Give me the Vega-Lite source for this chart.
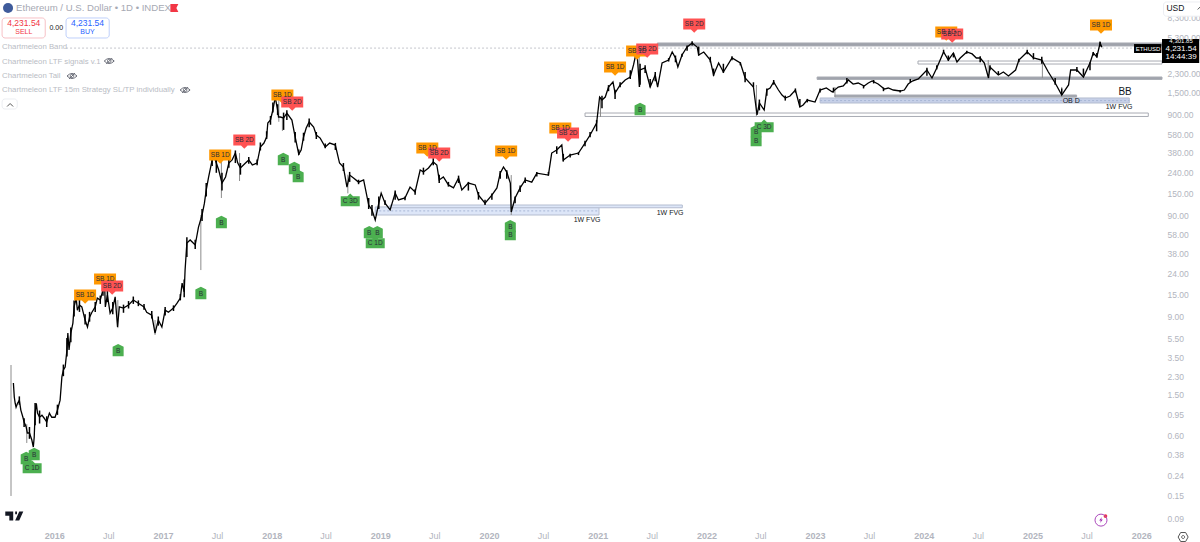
{
"$schema":"https://vega.github.io/schema/vega-lite/v6.json",
"autosize":"none","width":1162,"height":526,
"padding":{"left":0,"right":38,"top":0,"bottom":16},
"background":"white",
"config":{"view":{"stroke":null},"text":{"font":"Liberation Sans"}},
"resolve":{"scale":{"color":"independent","size":"independent","shape":"independent","fill":"independent","stroke":"independent"}},
"datasets":{
"prices":[
{"date":"2015-08-17","close":1.97},{"date":"2015-08-20","close":1.43},{"date":"2015-08-23","close":1.24},{"date":"2015-08-26","close":1.13},{"date":"2015-08-31","close":1.24},{"date":"2015-09-06","close":1.33},{"date":"2015-09-11","close":1.06},{"date":"2015-09-18","close":0.9},{"date":"2015-09-22","close":0.807},{"date":"2015-09-29","close":0.72},{"date":"2015-10-03","close":0.628},{"date":"2015-10-10","close":0.63},{"date":"2015-10-18","close":0.535},{"date":"2015-10-23","close":0.456},{"date":"2015-10-26","close":0.573},{"date":"2015-10-29","close":0.99},{"date":"2015-11-02","close":1.24},{"date":"2015-11-06","close":0.99},{"date":"2015-11-13","close":0.9},{"date":"2015-11-21","close":0.945},{"date":"2015-11-28","close":0.885},{"date":"2015-12-07","close":0.807},{"date":"2015-12-16","close":0.99},{"date":"2015-12-24","close":0.9},
{"date":"2016-01-04","close":0.9},{"date":"2016-01-12","close":1.06},{"date":"2016-01-21","close":1.33},{"date":"2016-01-27","close":2.26},{"date":"2016-02-01","close":2.65},{"date":"2016-02-07","close":2.84},{"date":"2016-02-13","close":4.18},{"date":"2016-02-16","close":6.16},{"date":"2016-02-20","close":4.18},{"date":"2016-02-26","close":6.16},{"date":"2016-03-04","close":7.75},{"date":"2016-03-08","close":11.2},{"date":"2016-03-15","close":13.7},{"date":"2016-03-19","close":10.4},{"date":"2016-03-26","close":11.7},{"date":"2016-04-03","close":11.2},{"date":"2016-04-14","close":8.3},{"date":"2016-04-22","close":7.07},{"date":"2016-04-29","close":8.86},{"date":"2016-05-07","close":9.93},{"date":"2016-05-18","close":11.2},{"date":"2016-05-25","close":13.7},{"date":"2016-06-04","close":13.1},{"date":"2016-06-13","close":16.5},{"date":"2016-06-18","close":20.7},{"date":"2016-06-21","close":11.2},{"date":"2016-06-28","close":14.7},{"date":"2016-07-07","close":9.71},{"date":"2016-07-16","close":10.9},{"date":"2016-07-24","close":14.1},{"date":"2016-08-01","close":7.07},{"date":"2016-08-07","close":11.2},{"date":"2016-08-21","close":10.9},{"date":"2016-09-07","close":11.7},{"date":"2016-09-23","close":13.1},{"date":"2016-10-10","close":12.2},{"date":"2016-10-29","close":11.2},{"date":"2016-11-07","close":9.93},{"date":"2016-11-24","close":9.28},{"date":"2016-12-05","close":6.16},{"date":"2016-12-16","close":8.3},{"date":"2016-12-28","close":7.07},
{"date":"2017-01-08","close":10.4},{"date":"2017-01-19","close":9.93},{"date":"2017-02-05","close":10.9},{"date":"2017-02-17","close":12.2},{"date":"2017-02-28","close":13.7},{"date":"2017-03-06","close":19.3},{"date":"2017-03-13","close":15.8},{"date":"2017-03-16","close":26},{"date":"2017-03-22","close":48.3},{"date":"2017-04-02","close":51.7},{"date":"2017-04-19","close":46.1},{"date":"2017-04-30","close":69.5},{"date":"2017-05-12","close":91.5},{"date":"2017-05-20","close":120},{"date":"2017-05-26","close":162},{"date":"2017-06-03","close":218},{"date":"2017-06-15","close":322},{"date":"2017-06-20","close":360},{"date":"2017-06-29","close":300},{"date":"2017-07-07","close":256},{"date":"2017-07-18","close":190},{"date":"2017-07-30","close":218},{"date":"2017-08-10","close":300},{"date":"2017-08-21","close":322},{"date":"2017-09-01","close":377},{"date":"2017-09-09","close":300},{"date":"2017-09-18","close":268},{"date":"2017-10-05","close":300},{"date":"2017-10-16","close":322},{"date":"2017-10-28","close":287},{"date":"2017-11-13","close":300},{"date":"2017-11-24","close":433},{"date":"2017-12-06","close":474},{"date":"2017-12-15","close":543},{"date":"2017-12-19","close":749},{"date":"2017-12-28","close":802},
{"date":"2018-01-05","close":1008},{"date":"2018-01-13","close":1356},{"date":"2018-01-21","close":1008},{"date":"2018-01-24","close":859},{"date":"2018-01-30","close":859},{"date":"2018-02-10","close":840},{"date":"2018-02-21","close":941},{"date":"2018-03-10","close":802},{"date":"2018-03-21","close":543},{"date":"2018-04-02","close":368},{"date":"2018-04-10","close":404},{"date":"2018-04-18","close":543},{"date":"2018-04-27","close":668},{"date":"2018-05-07","close":766},{"date":"2018-05-22","close":683},{"date":"2018-05-31","close":569},{"date":"2018-06-13","close":531},{"date":"2018-06-30","close":433},{"date":"2018-07-15","close":474},{"date":"2018-08-03","close":453},{"date":"2018-08-17","close":300},{"date":"2018-08-30","close":274},{"date":"2018-09-11","close":173},{"date":"2018-09-20","close":228},{"date":"2018-10-03","close":213},{"date":"2018-10-20","close":194},{"date":"2018-11-06","close":204},{"date":"2018-11-23","close":115},{"date":"2018-12-04","close":103},{"date":"2018-12-15","close":81.6},{"date":"2018-12-27","close":120},
{"date":"2019-01-04","close":151},{"date":"2019-01-17","close":120},{"date":"2019-02-03","close":103},{"date":"2019-02-20","close":151},{"date":"2019-03-03","close":129},{"date":"2019-03-25","close":135},{"date":"2019-04-11","close":173},{"date":"2019-04-28","close":155},{"date":"2019-05-15","close":256},{"date":"2019-05-26","close":245},{"date":"2019-06-12","close":268},{"date":"2019-06-28","close":307},{"date":"2019-07-10","close":287},{"date":"2019-07-18","close":204},{"date":"2019-08-01","close":218},{"date":"2019-08-18","close":182},{"date":"2019-09-04","close":170},{"date":"2019-09-21","close":213},{"date":"2019-10-02","close":162},{"date":"2019-10-24","close":190},{"date":"2019-11-16","close":182},{"date":"2019-11-27","close":144},{"date":"2019-12-19","close":120},
{"date":"2020-01-11","close":144},{"date":"2020-01-28","close":170},{"date":"2020-02-08","close":238},{"date":"2020-02-19","close":274},{"date":"2020-03-01","close":244},{"date":"2020-03-13","close":190},{"date":"2020-03-16","close":98},{"date":"2020-03-29","close":135},{"date":"2020-04-15","close":170},{"date":"2020-05-02","close":204},{"date":"2020-05-24","close":194},{"date":"2020-06-10","close":238},{"date":"2020-07-19","close":228},{"date":"2020-07-30","close":377},{"date":"2020-08-16","close":404},{"date":"2020-09-02","close":453},{"date":"2020-09-07","close":322},{"date":"2020-09-30","close":360},{"date":"2020-10-28","close":377},{"date":"2020-11-19","close":474},{"date":"2020-12-06","close":569},{"date":"2020-12-28","close":749},
{"date":"2021-01-07","close":1356},{"date":"2021-01-15","close":1267},{"date":"2021-01-26","close":1356},{"date":"2021-02-06","close":1705},{"date":"2021-02-21","close":1911},{"date":"2021-02-28","close":1487},{"date":"2021-03-17","close":1786},{"date":"2021-04-03","close":2001},{"date":"2021-04-20","close":2143},{"date":"2021-05-01","close":2822},{"date":"2021-05-12","close":3973},{"date":"2021-05-21","close":1705},{"date":"2021-05-23","close":2515},{"date":"2021-06-09","close":2633},{"date":"2021-06-26","close":1705},{"date":"2021-07-13","close":2245},{"date":"2021-07-21","close":1705},{"date":"2021-08-05","close":2952},{"date":"2021-08-27","close":3161},{"date":"2021-09-08","close":3794},{"date":"2021-09-19","close":3310},{"date":"2021-09-27","close":2694},{"date":"2021-10-11","close":3544},{"date":"2021-10-28","close":4255},{"date":"2021-11-14","close":4663},{"date":"2021-12-01","close":4255},{"date":"2021-12-06","close":3544},{"date":"2021-12-23","close":3794},
{"date":"2022-01-14","close":3161},{"date":"2022-01-25","close":2245},{"date":"2022-02-11","close":2952},{"date":"2022-02-27","close":2402},{"date":"2022-03-28","close":3310},{"date":"2022-04-25","close":2952},{"date":"2022-05-11","close":2095},{"date":"2022-06-08","close":1705},{"date":"2022-06-20","close":900},{"date":"2022-06-28","close":1183},{"date":"2022-07-14","close":1008},{"date":"2022-07-23","close":1592},{"date":"2022-08-03","close":1667},{"date":"2022-08-15","close":1911},{"date":"2022-08-31","close":1592},{"date":"2022-09-12","close":1420},{"date":"2022-09-23","close":1327},{"date":"2022-10-09","close":1387},{"date":"2022-10-27","close":1592},{"date":"2022-11-11","close":1080},{"date":"2022-11-22","close":1130},{"date":"2022-12-06","close":1267},
{"date":"2023-01-01","close":1210},{"date":"2023-01-18","close":1592},{"date":"2023-02-08","close":1667},{"date":"2023-02-28","close":1520},{"date":"2023-03-20","close":1705},{"date":"2023-04-06","close":1746},{"date":"2023-04-23","close":2001},{"date":"2023-05-09","close":1825},{"date":"2023-05-26","close":1869},{"date":"2023-06-15","close":1746},{"date":"2023-06-29","close":1869},{"date":"2023-07-12","close":1955},{"date":"2023-08-01","close":1825},{"date":"2023-08-22","close":1629},{"date":"2023-09-04","close":1667},{"date":"2023-09-21","close":1592},{"date":"2023-10-14","close":1556},{"date":"2023-10-28","close":1592},{"date":"2023-11-10","close":1825},{"date":"2023-11-24","close":1955},{"date":"2023-12-14","close":2048},
{"date":"2024-01-12","close":2515},{"date":"2024-01-29","close":2095},{"date":"2024-02-14","close":2633},{"date":"2024-03-08","close":3794},{"date":"2024-03-24","close":3161},{"date":"2024-04-10","close":3711},{"date":"2024-04-22","close":3019},{"date":"2024-05-03","close":3310},{"date":"2024-05-25","close":3794},{"date":"2024-06-12","close":3631},{"date":"2024-06-26","close":3310},{"date":"2024-07-09","close":3310},{"date":"2024-07-23","close":2952},{"date":"2024-08-06","close":2095},{"date":"2024-08-11","close":2694},{"date":"2024-09-08","close":2245},{"date":"2024-09-25","close":2402},{"date":"2024-10-12","close":2193},{"date":"2024-11-05","close":2515},{"date":"2024-11-16","close":3161},{"date":"2024-12-14","close":3794},
{"date":"2025-01-04","close":3310},{"date":"2025-02-01","close":3161},{"date":"2025-02-23","close":2402},{"date":"2025-03-18","close":1869},{"date":"2025-04-09","close":1420},{"date":"2025-05-02","close":1786},{"date":"2025-05-09","close":2515},{"date":"2025-05-30","close":2515},{"date":"2025-06-21","close":2143},{"date":"2025-07-13","close":2952},{"date":"2025-07-24","close":3711},{"date":"2025-08-05","close":3385},{"date":"2025-08-16","close":4663},{"date":"2025-08-22","close":4231.54}
],
"candles":[
{"date":"2015-09-06","high":1.45,"low":1.2},{"date":"2015-09-22","high":0.88,"low":0.72},{"date":"2015-10-10","high":0.72,"low":0.55},{"date":"2015-10-29","high":1.25,"low":0.75},{"date":"2015-11-13","high":1.05,"low":0.78},{"date":"2015-12-07","high":0.92,"low":0.72},
{"date":"2016-01-12","high":1.2,"low":0.95},{"date":"2016-02-01","high":3,"low":2.3},{"date":"2016-02-13","high":5.5,"low":3.6},{"date":"2016-02-26","high":7,"low":5},{"date":"2016-03-08","high":13,"low":9},{"date":"2016-03-26","high":13.5,"low":10},{"date":"2016-04-14","high":9.5,"low":7.5},{"date":"2016-04-29","high":10,"low":8},{"date":"2016-05-18","high":12.5,"low":10},{"date":"2016-06-04","high":14.5,"low":12},{"date":"2016-06-13","high":19,"low":14.5},{"date":"2016-06-28","high":18,"low":12.5},{"date":"2016-07-16","high":12.5,"low":9.5},{"date":"2016-08-21","high":11.8,"low":9.8},{"date":"2016-09-07","high":12.8,"low":10.8},{"date":"2016-09-23","high":14.2,"low":12},{"date":"2016-10-10","high":13,"low":11.4},{"date":"2016-10-29","high":12,"low":10.5},{"date":"2016-11-24","high":10.2,"low":8.6},{"date":"2016-12-16","high":9,"low":7.3},
{"date":"2017-01-08","high":11.2,"low":9.2},{"date":"2017-02-05","high":11.6,"low":10.2},{"date":"2017-02-28","high":15,"low":13},{"date":"2017-03-13","high":21,"low":14},{"date":"2017-03-22","high":55,"low":35},{"date":"2017-04-19","high":52,"low":42},{"date":"2017-05-12","high":105,"low":80},{"date":"2017-05-26","high":190,"low":140},{"date":"2017-06-15","high":370,"low":280},{"date":"2017-06-29","high":350,"low":240},{"date":"2017-07-18","high":240,"low":160},{"date":"2017-08-10","high":330,"low":270},{"date":"2017-09-01","high":400,"low":300},{"date":"2017-09-18","high":300,"low":230},{"date":"2017-10-16","high":345,"low":295},{"date":"2017-11-13","high":325,"low":285},{"date":"2017-11-24","high":480,"low":400},{"date":"2017-12-15","high":620,"low":520},{"date":"2017-12-28","high":880,"low":720},
{"date":"2018-01-05","high":1200,"low":950},{"date":"2018-01-21","high":1150,"low":900},{"date":"2018-02-10","high":950,"low":640},{"date":"2018-02-21","high":1000,"low":800},{"date":"2018-03-21","high":610,"low":480},{"date":"2018-04-02","high":410,"low":360},{"date":"2018-04-18","high":600,"low":500},{"date":"2018-05-07","high":830,"low":680},{"date":"2018-05-31","high":610,"low":520},{"date":"2018-06-30","high":470,"low":420},{"date":"2018-08-03","high":475,"low":405},{"date":"2018-08-30","high":300,"low":250},{"date":"2018-09-20","high":245,"low":195},{"date":"2018-10-20","high":205,"low":185},{"date":"2018-11-23","high":135,"low":105},{"date":"2018-12-04","high":115,"low":90},{"date":"2018-12-27","high":140,"low":105},
{"date":"2019-01-17","high":128,"low":115},{"date":"2019-02-20","high":160,"low":130},{"date":"2019-03-25","high":140,"low":128},{"date":"2019-04-28","high":165,"low":145},{"date":"2019-05-26","high":270,"low":230},{"date":"2019-06-28","high":335,"low":285},{"date":"2019-07-18","high":230,"low":190},{"date":"2019-08-18","high":195,"low":175},{"date":"2019-09-21","high":225,"low":190},{"date":"2019-10-24","high":195,"low":160},{"date":"2019-11-27","high":155,"low":130},{"date":"2019-12-19","high":130,"low":115},
{"date":"2020-01-11","high":150,"low":130},{"date":"2020-02-08","high":250,"low":210},{"date":"2020-03-01","high":255,"low":210},{"date":"2020-03-29","high":140,"low":120},{"date":"2020-04-15","high":180,"low":155},{"date":"2020-05-02","high":215,"low":190},{"date":"2020-06-10","high":245,"low":220},{"date":"2020-07-19","high":245,"low":225},{"date":"2020-08-16","high":440,"low":370},{"date":"2020-09-07","high":370,"low":310},{"date":"2020-09-30","high":370,"low":340},{"date":"2020-10-28","high":385,"low":360},{"date":"2020-11-19","high":500,"low":440},{"date":"2020-12-06","high":610,"low":540},{"date":"2020-12-28","high":800,"low":620},
{"date":"2021-01-15","high":1400,"low":1050},{"date":"2021-02-06","high":1780,"low":1550},{"date":"2021-02-28","high":1600,"low":1300},{"date":"2021-03-17","high":1900,"low":1700},{"date":"2021-04-20","high":2500,"low":2050},{"date":"2021-05-23","high":2900,"low":1800},{"date":"2021-06-09","high":2800,"low":2350},{"date":"2021-06-26","high":2050,"low":1700},{"date":"2021-07-13","high":2400,"low":1950},{"date":"2021-08-27","high":3300,"low":3050},{"date":"2021-09-19","high":3500,"low":3000},{"date":"2021-10-11","high":3650,"low":3400},{"date":"2021-10-28","high":4400,"low":3900},{"date":"2021-11-14","high":4850,"low":4400},{"date":"2021-12-06","high":4300,"low":3500},
{"date":"2022-01-14","high":3400,"low":3000},{"date":"2022-01-25","high":2600,"low":2200},{"date":"2022-02-27","high":2900,"low":2350},{"date":"2022-03-28","high":3450,"low":3150},{"date":"2022-04-25","high":3000,"low":2800},{"date":"2022-05-11","high":2400,"low":1900},{"date":"2022-06-08","high":1900,"low":1700},{"date":"2022-06-28","high":1280,"low":1000},{"date":"2022-07-23","high":1650,"low":1400},{"date":"2022-08-15","high":2000,"low":1800},{"date":"2022-09-23","high":1400,"low":1250},{"date":"2022-10-27","high":1650,"low":1500},{"date":"2022-11-11","high":1300,"low":1080},{"date":"2022-12-06","high":1300,"low":1200},
{"date":"2023-01-18","high":1650,"low":1500},{"date":"2023-03-04","high":1680,"low":1500},{"date":"2023-04-18","high":2100,"low":1850},{"date":"2023-06-13","high":1760,"low":1650},{"date":"2023-07-17","high":2000,"low":1850},{"date":"2023-08-19","high":1680,"low":1550},{"date":"2023-10-14","high":1590,"low":1500},{"date":"2023-11-17","high":2050,"low":1900},
{"date":"2024-01-12","high":2650,"low":2200},{"date":"2024-02-14","high":2800,"low":2550},{"date":"2024-03-08","high":4000,"low":3700},{"date":"2024-03-24","high":3500,"low":3100},{"date":"2024-04-10","high":3700,"low":3350},{"date":"2024-05-25","high":3900,"low":3650},{"date":"2024-07-09","high":3450,"low":3000},{"date":"2024-08-11","high":2800,"low":2500},{"date":"2024-09-08","high":2450,"low":2250},{"date":"2024-11-16","high":3250,"low":3000},{"date":"2024-12-14","high":4000,"low":3600},
{"date":"2025-01-04","high":3700,"low":3200},{"date":"2025-02-01","high":3400,"low":2900},{"date":"2025-03-18","high":2100,"low":1800},{"date":"2025-04-09","high":1650,"low":1420},{"date":"2025-05-30","high":2700,"low":2400},{"date":"2025-06-21","high":2600,"low":2250},{"date":"2025-07-13","high":3000,"low":2500},{"date":"2025-07-24","high":3800,"low":3500},{"date":"2025-08-05","high":3700,"low":3350},{"date":"2025-08-16","high":4790,"low":4300}
],
"wicks":[
{"date":"2015-08-09","high":2.97,"low":0.149},{"date":"2015-10-01","high":0.77,"low":0.5},{"date":"2016-08-02","high":13.1,"low":6.9},{"date":"2016-12-05","high":8.3,"low":5.9},{"date":"2017-05-08","high":91.5,"low":26},{"date":"2017-07-16","high":322,"low":135},{"date":"2017-09-15","high":377,"low":199},{"date":"2018-01-25","high":1356,"low":770},{"date":"2018-02-06","high":859,"low":625},{"date":"2018-09-14","high":230,"low":150},{"date":"2020-03-16","high":228,"low":91.5},{"date":"2021-01-10","high":1356,"low":859},{"date":"2021-05-20","high":4255,"low":1705},{"date":"2022-06-18","high":1786,"low":879},{"date":"2023-03-09","high":1705,"low":1356},{"date":"2024-08-05","high":3161,"low":2095},{"date":"2025-02-03","high":3161,"low":2095},{"date":"2025-04-09","high":1705,"low":1356},{"date":"2025-06-21","high":2515,"low":2095}
],
"zones":[
{"kind":"fvg","start":"2018-12-15","end":"2021-01-05","top":110,"bottom":91.5},
{"kind":"fvg","start":"2019-02-03","end":"2021-10-12","top":115,"bottom":108},
{"kind":"obd","start":"2023-01-18","end":"2025-11-22","top":1327,"bottom":1183},
{"kind":"range","start":"2021-07-20","end":"2026-03-12","top":4663,"bottom":4358},
{"kind":"open","start":"2023-12-13","end":"2026-03-12","top":3088,"bottom":2883},
{"kind":"range","start":"2023-01-08","end":"2026-03-12","top":2143,"bottom":2030},
{"kind":"range","start":"2023-03-09","end":"2025-05-29","top":1420,"bottom":1356},
{"kind":"open","start":"2020-11-19","end":"2026-01-25","top":941,"bottom":870}
],
"guides":[
{"start":"2018-12-15","end":"2021-01-05","level":100.5,"kind":"mid"},
{"start":"2023-01-18","end":"2025-11-22","level":1251,"kind":"mid"},
{"start":"2016-02-10","end":"2025-12-25","level":4150,"kind":"last"}
],
"badges":[
{"date":"2016-04-14","price":14.7,"badge":"SB 1D"},{"date":"2016-06-20","price":21.2,"badge":"SB 1D"},{"date":"2016-07-14","price":18.05,"badge":"SB 2D"},
{"date":"2015-09-29","price":0.347,"badge":"B"},{"date":"2015-10-26","price":0.38,"badge":"B"},{"date":"2015-10-19","price":0.282,"badge":"C 1D"},{"date":"2016-08-03","price":4.08,"badge":"B"},{"date":"2017-05-08","price":15.05,"badge":"B"},
{"date":"2017-07-12","price":360,"badge":"SB 1D"},{"date":"2017-10-01","price":508,"badge":"SB 2D"},{"date":"2018-02-06","price":1420,"badge":"SB 1D"},{"date":"2018-03-11","price":1210,"badge":"SB 2D"},
{"date":"2017-07-16","price":76.2,"badge":"B"},{"date":"2018-02-09","price":322,"badge":"B"},{"date":"2018-03-18","price":262,"badge":"B"},{"date":"2018-03-31","price":218,"badge":"B"},{"date":"2018-09-22","price":126,"badge":"C 3D"},
{"date":"2018-12-15","price":48.3,"badge":"C 1D"},{"date":"2018-11-25","price":60.6,"badge":"B"},{"date":"2018-12-22","price":60.6,"badge":"B"},
{"date":"2019-06-08","price":423,"badge":"SB 1D"},{"date":"2019-07-18","price":377,"badge":"SB 2D"},{"date":"2020-02-28","price":395,"badge":"SB 1D"},{"date":"2020-08-28","price":668,"badge":"SB 1D"},{"date":"2020-09-23","price":596,"badge":"SB 2D"},
{"date":"2020-03-13","price":57.9,"badge":"B"},{"date":"2020-03-13","price":69.5,"badge":"B"},
{"date":"2021-02-28","price":2694,"badge":"SB 1D"},{"date":"2021-05-13","price":3881,"badge":"SB 1D"},{"date":"2021-06-16","price":4060,"badge":"SB 2D"},{"date":"2021-11-21","price":7192,"badge":"SB 2D"},{"date":"2021-05-23","price":1008,"badge":"B"},
{"date":"2022-06-17","price":496,"badge":"B"},{"date":"2022-06-17","price":609,"badge":"B"},{"date":"2022-07-14","price":683,"badge":"C 3D"},
{"date":"2024-03-17","price":5993,"badge":"SB 1D"},{"date":"2024-04-06","price":5723,"badge":"SB 2D"},{"date":"2025-08-19","price":7034,"badge":"SB 1D"}
],
"buttons":[
{"kind":"sell","start":"2015-07-10","end":"2015-12-02","top":8257,"bottom":5227},
{"kind":"buy","start":"2016-02-10","end":"2016-07-04","top":8257,"bottom":5227},
{"kind":"plain","start":"2015-07-10","end":"2015-08-30","top":1297,"bottom":1031},
{"kind":"plain","start":"2026-03-17","end":"2026-08-05","top":11900,"bottom":8600}
],
"tags":[
{"start":"2025-12-08","end":"2026-03-10","top":4553,"bottom":3711},
{"start":"2026-03-12","end":"2026-07-15","top":5100,"bottom":2950}
],
"notes":[
{"date":"2015-08-26","price":10376,"text":"Ethereum / U.S. Dollar • 1D • INDEX","kind":"head"},
{"date":"2015-07-10","price":4208,"text":"Chartmeleon Band","kind":"study"},
{"date":"2015-07-10","price":3054,"text":"Chartmeleon LTF signals v.1","kind":"study"},
{"date":"2015-07-10","price":2193,"text":"Chartmeleon Tail","kind":"study"},
{"date":"2015-07-10","price":1592,"text":"Chartmeleon LTF 15m Strategy SL/TP individually","kind":"study"},
{"date":"2026-03-27","price":10376,"text":"USD","kind":"usd"}
],
"centered":[
{"date":"2015-09-21","price":7366,"text":"4,231.54","kind":"sellprice"},
{"date":"2015-09-21","price":5993,"text":"SELL","kind":"selltext"},
{"date":"2016-04-22","price":7366,"text":"4,231.54","kind":"buyprice"},
{"date":"2016-04-22","price":5993,"text":"BUY","kind":"buytext"},
{"date":"2016-01-08","price":6570,"text":"0.00","kind":"spread"},
{"date":"2025-11-08","price":1520,"text":"BB","kind":"big"},
{"date":"2025-05-11","price":1238,"text":"OB D","kind":"zone"},
{"date":"2025-10-19","price":1080,"text":"1W FVG","kind":"zone"},
{"date":"2020-11-26","price":81.6,"text":"1W FVG","kind":"zone"},
{"date":"2021-09-01","price":95.8,"text":"1W FVG","kind":"zone"},
{"date":"2026-01-24","price":4110,"text":"ETHUSD","kind":"quote"},
{"date":"2026-05-15","price":4920,"text":"4,301.85","kind":"quote"},
{"date":"2026-05-15","price":4100,"text":"4,231.54","kind":"ticker"},
{"date":"2026-05-15","price":3385,"text":"14:44:39","kind":"ticker"}
],
"icons":[
{"date":"2015-07-30","price":10376,"icon":"coin"},
{"date":"2017-02-08","price":10376,"icon":"flag"},
{"date":"2015-08-20","price":0.0942,"icon":"logo"},
{"date":"2025-09-03","price":0.0942,"icon":"dot"},
{"date":"2025-08-19","price":0.0858,"icon":"bolt"}
],
"rings":[
{"date":"2016-07-04","price":3088,"icon":"eye"},
{"date":"2016-03-01","price":2193,"icon":"eye"},
{"date":"2017-03-16","price":1592,"icon":"eye"},
{"date":"2015-08-06","price":1130,"icon":"chevron"},
{"date":"2026-07-20","price":10376,"icon":"chevron"},
{"date":"2025-08-19","price":0.0858,"icon":"ring"},
{"date":"2026-05-22","price":0.0583,"icon":"gear"}
]
},
"encoding":{
"x":{"field":"date","type":"temporal","title":null,
"scale":{"domain":[{"year":2015,"month":7,"date":3},{"year":2026,"month":3,"date":12}],"nice":false},
"axis":{"grid":false,"domain":false,"ticks":false,"labelOverlap":false,"labelFlush":false,"labelPadding":5,"labelFont":"Liberation Sans","labelFontSize":9,"labelColor":"#b2b5be",
"labelFontWeight":{"condition":{"test":"month(datum.value)==0","value":"bold"},"value":"normal"},
"values":[{"year":2016,"month":1,"date":1},{"year":2016,"month":7,"date":1},{"year":2017,"month":1,"date":1},{"year":2017,"month":7,"date":1},{"year":2018,"month":1,"date":1},{"year":2018,"month":7,"date":1},{"year":2019,"month":1,"date":1},{"year":2019,"month":7,"date":1},{"year":2020,"month":1,"date":1},{"year":2020,"month":7,"date":1},{"year":2021,"month":1,"date":1},{"year":2021,"month":7,"date":1},{"year":2022,"month":1,"date":1},{"year":2022,"month":7,"date":1},{"year":2023,"month":1,"date":1},{"year":2023,"month":7,"date":1},{"year":2024,"month":1,"date":1},{"year":2024,"month":7,"date":1},{"year":2025,"month":1,"date":1},{"year":2025,"month":7,"date":1},{"year":2026,"month":1,"date":1}],
"labelExpr":"month(datum.value)==0 ? timeFormat(datum.value,'%Y') : 'Jul'"}},
"y":{"field":"price","type":"quantitative","title":null,
"scale":{"type":"log","domain":[0.075,12452],"nice":false,"zero":false},
"axis":{"orient":"right","grid":false,"domain":false,"ticks":false,"labelOverlap":false,"labelPadding":5,"labelFont":"Liberation Sans","labelFontSize":8.5,"labelColor":"#b2b5be","format":",.2f",
"values":[8300,5300,2300,1500,900,580,380,240,150,90,58,38,24,15,9,5.5,3.5,2.3,1.5,0.95,0.6,0.38,0.24,0.15,0.09]}}
},
"layer":[
{"data":{"name":"zones"},"mark":{"type":"rect","strokeWidth":1},
"encoding":{"x":{"field":"start","type":"temporal"},"x2":{"field":"end"},"y":{"field":"top","type":"quantitative"},"y2":{"field":"bottom"},
"fill":{"field":"kind","scale":{"domain":["fvg","obd","range","open"],"range":["#dde6f8","#c6d0e8","#9fa2ab","#ffffff"]},"legend":null},
"stroke":{"field":"kind","scale":{"domain":["fvg","obd","range","open"],"range":["#b4bdd0","#b4bdd0","#a8abb3","#a8abb3"]},"legend":null}}},
{"data":{"name":"guides"},"mark":{"type":"rule","strokeWidth":1,"strokeDash":[2,2]},
"encoding":{"x":{"field":"start","type":"temporal"},"x2":{"field":"end"},"y":{"field":"level","type":"quantitative"},
"color":{"field":"kind","scale":{"domain":["mid","last"],"range":["#a9b7d6","#c4c6cc"]},"legend":null}}},
{"data":{"name":"wicks"},"mark":{"type":"rule","strokeWidth":1,"color":"#8c8c8c"},
"encoding":{"y":{"field":"high","type":"quantitative"},"y2":{"field":"low"}}},
{"data":{"name":"prices"},"mark":{"type":"line","color":"#000000","strokeWidth":1.3,"strokeJoin":"miter"},
"encoding":{"y":{"field":"close","type":"quantitative"}}},
{"data":{"name":"candles"},"mark":{"type":"rule","strokeWidth":1.5,"color":"#000000"},
"encoding":{"y":{"field":"high","type":"quantitative"},"y2":{"field":"low"}}},
{"data":{"name":"badges"},"mark":{"type":"point","filled":true,"opacity":1},
"encoding":{
"shape":{"field":"badge","scale":{"domain":["SB 1D","SB 2D","B","C 1D","C 3D"],"range":["M-1,-0.5H1V0.5H0.3L0,0.8L-0.3,0.5H-1Z","M-1,-0.5H1V0.5H0.3L0,0.8L-0.3,0.5H-1Z","M-1,-0.8L0,-1.3L1,-0.8V0.95H-1Z","M-1,-0.5H-0.3L0,-0.8L0.3,-0.5H1V0.55H-1Z","M-1,-0.5H-0.3L0,-0.8L0.3,-0.5H1V0.55H-1Z"]},"legend":null},
"size":{"field":"badge","type":"nominal","scale":{"type":"ordinal","domain":["SB 1D","SB 2D","B","C 1D","C 3D"],"range":[484,484,121,361,361]},"legend":null},
"color":{"field":"badge","scale":{"domain":["SB 1D","SB 2D","B","C 1D","C 3D"],"range":["#ff9800","#ff5252","#4caf50","#4caf50","#4caf50"]},"legend":null}}},
{"data":{"name":"badges"},"mark":{"type":"text","fontSize":6.5,"color":"#2a2e39"},
"encoding":{"text":{"field":"badge"}}},
{"data":{"name":"buttons"},"mark":{"type":"rect","cornerRadius":3,"strokeWidth":1,"fill":"#ffffff"},
"encoding":{"x":{"field":"start","type":"temporal"},"x2":{"field":"end"},"y":{"field":"top","type":"quantitative"},"y2":{"field":"bottom"},
"stroke":{"field":"kind","scale":{"domain":["sell","buy","plain"],"range":["#f7c1c6","#bfd0fb","#eceef2"]},"legend":null}}},
{"data":{"name":"tags"},"mark":{"type":"rect","fill":"#000000"},
"encoding":{"x":{"field":"start","type":"temporal"},"x2":{"field":"end"},"y":{"field":"top","type":"quantitative"},"y2":{"field":"bottom"}}},
{"data":{"name":"notes"},"mark":{"type":"text","align":"left","baseline":"middle"},
"encoding":{"text":{"field":"text"},
"size":{"field":"kind","type":"nominal","scale":{"type":"ordinal","domain":["head","study","usd"],"range":[9.6,7.8,8.5]},"legend":null},
"color":{"field":"kind","scale":{"domain":["head","study","usd"],"range":["#a6a9b3","#b9bcc4","#131722"]},"legend":null}}},
{"data":{"name":"centered"},"mark":{"type":"text","align":"center","baseline":"middle"},
"encoding":{"text":{"field":"text"},
"size":{"field":"kind","type":"nominal","scale":{"type":"ordinal","domain":["sellprice","selltext","buyprice","buytext","spread","big","zone","ticker","quote"],"range":[8.5,7,8.5,7,7,10,7,8,6]},"legend":null},
"color":{"field":"kind","scale":{"domain":["sellprice","selltext","buyprice","buytext","spread","big","zone","ticker","quote"],"range":["#f23645","#f23645","#2962ff","#2962ff","#131722","#131722","#131722","#ffffff","#ffffff"]},"legend":null}}},
{"data":{"name":"icons"},"mark":{"type":"point","filled":true,"opacity":1},
"encoding":{
"shape":{"field":"icon","scale":{"domain":["coin","flag","logo","dot","bolt"],"range":["circle","M-1,-1H1L0.5,0L1,1H-1Z","M-1,-0.5H-0.12V0.5H-0.55V-0.02H-1ZM0.1,-0.5H0.3V-0.2H0.1ZM0.55,-0.5H1L0.55,0.5H0.1Z","circle","M0.3,-1L-0.6,0.15H-0.05L-0.3,1L0.6,-0.2H0.05Z"]},"legend":null},
"size":{"field":"icon","type":"nominal","scale":{"type":"ordinal","domain":["coin","flag","logo","dot","bolt"],"range":[100,64,324,14,36]},"legend":null},
"color":{"field":"icon","scale":{"domain":["coin","flag","logo","dot","bolt"],"range":["#3f5b9b","#f23645","#131722","#f23645","#9c27b0"]},"legend":null}}},
{"data":{"name":"rings"},"mark":{"type":"point","filled":false,"opacity":1,"strokeWidth":1},
"encoding":{
"shape":{"field":"icon","scale":{"domain":["eye","chevron","ring","gear"],"range":["M-1,0Q0,-1 1,0Q0,1 -1,0ZM-0.35,0A0.35,0.35 0 1 0 0.35,0A0.35,0.35 0 1 0 -0.35,0ZM-0.6,0.6L0.6,-0.6","M-1,0.5L0,-0.5L1,0.5","circle","M-0.5,-0.9H0.5L1,0L0.5,0.9H-0.5L-1,0ZM-0.3,0A0.3,0.3 0 1 0 0.3,0A0.3,0.3 0 1 0 -0.3,0Z"]},"legend":null},
"size":{"field":"icon","type":"nominal","scale":{"type":"ordinal","domain":["eye","chevron","ring","gear"],"range":[100,36,144,100]},"legend":null},
"color":{"field":"icon","scale":{"domain":["eye","chevron","ring","gear"],"range":["#6a6d78","#555555","#ab47bc","#555555"]},"legend":null}}}
]
}
